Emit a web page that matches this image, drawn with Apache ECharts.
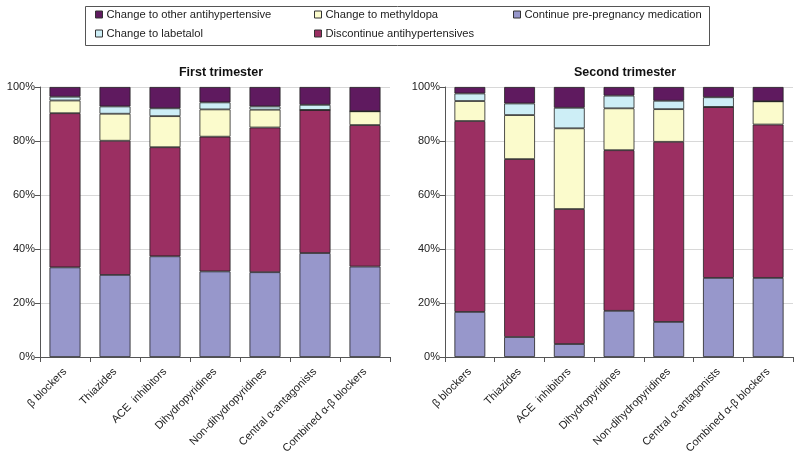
<!DOCTYPE html>
<html><head><meta charset="utf-8">
<script src="https://cdn.jsdelivr.net/npm/echarts@6/dist/echarts.min.js"></script>
<style>html,body{margin:0;padding:0;background:#fff}#c{width:800px;height:461px}</style>
</head><body><div id="c"></div>
<script>
const categories = ['β blockers','Thiazides','ACE  inhibitors','Dihydropyridines','Non-dihydropyridines','Central α-antagonists','Combined α-β blockers'];
const seriesNames = ['Continue pre-pregnancy medication','Discontinue antihypertensives','Change to methyldopa','Change to labetalol','Change to other antihypertensive'];
// First trimester (%)
const t1Continue = [33.2, 30.4, 37.3, 31.7, 31.4, 38.5, 33.5];
const t1Discontinue = [57.1, 49.7, 40.4, 49.9, 53.6, 53.0, 52.4];
const t1Methyldopa = [4.7, 10.0, 11.5, 10.1, 6.6, 0, 5.1];
const t1Labetalol = [1.4, 2.7, 2.9, 2.6, 1.2, 1.9, 0];
const t1Other = [3.6, 7.2, 7.9, 5.7, 7.2, 6.6, 9.0];
// Second trimester (%)
const t2Continue = [16.7, 7.4, 4.8, 17.1, 13.0, 29.3, 29.3];
const t2Discontinue = [70.7, 65.9, 50.0, 59.5, 66.7, 63.3, 56.8];
const t2Methyldopa = [7.4, 16.3, 29.9, 15.5, 12.1, 0, 8.6];
const t2Labetalol = [2.8, 4.3, 7.6, 4.7, 3.1, 3.6, 0];
const t2Other = [2.4, 6.1, 7.7, 3.2, 5.1, 3.8, 5.3];
const yTicks = [0, 20, 40, 60, 80, 100];

const colors = ['#9797cb', '#9b2f62', '#fbfbcc', '#cdeef6', '#5f1a5f'];
const font = 'Liberation Sans, Arial, sans-serif';
const chart = echarts.init(document.getElementById('c'));
const t1 = [t1Continue, t1Discontinue, t1Methyldopa, t1Labetalol, t1Other];
const t2 = [t2Continue, t2Discontinue, t2Methyldopa, t2Labetalol, t2Other];
const series = [];
[t1, t2].forEach((set, gi) => {
  set.forEach((vals, si) => {
    series.push({
      name: seriesNames[si], type: 'bar', stack: 'g' + gi,
      xAxisIndex: gi, yAxisIndex: gi, barWidth: '62%',
      data: vals,
      itemStyle: { color: colors[si], borderColor: '#222', borderWidth: 0.8 },
      emphasis: { disabled: true }
    });
  });
});
const grids = [
  { left: 40, right: 410, top: 87, bottom: 104 },
  { left: 445, right: 7, top: 87, bottom: 104 }
];
const xAxes = [0, 1].map(i => ({
  type: 'category', gridIndex: i, data: categories,
  axisLine: { lineStyle: { color: '#555' } },
  axisTick: { show: true, alignWithLabel: false, lineStyle: { color: '#555' } },
  axisLabel: { rotate: 45, color: '#222', fontFamily: font, fontSize: 11, interval: 0, margin: 13 }
}));
const yAxes = [0, 1].map(i => ({
  type: 'value', gridIndex: i, min: yTicks[0], max: yTicks[yTicks.length - 1], interval: yTicks[1] - yTicks[0],
  axisLine: { show: true, lineStyle: { color: '#555' } },
  axisTick: { show: true, lineStyle: { color: '#555' } },
  axisLabel: { formatter: v => v + '%', color: '#222', fontFamily: font, fontSize: 11, margin: 5 },
  splitLine: { lineStyle: { color: '#d8d8d8' } }
}));
const legendCommon = {
  orient: 'vertical', itemWidth: 7, itemHeight: 7, icon: 'rect',
  textStyle: { fontFamily: font, fontSize: 11.2, color: '#222', padding: [0, 0, 0, -1] },
  itemStyle: { borderColor: '#333', borderWidth: 1 }, selectedMode: false, padding: 0
};
const legendPos = [
  ['Change to other antihypertensive', 95, 9],
  ['Change to labetalol', 95, 28],
  ['Change to methyldopa', 314, 9],
  ['Discontinue antihypertensives', 314, 28],
  ['Continue pre-pregnancy medication', 513, 9]
];
chart.setOption({
  animation: false,
  color: colors,
  title: [
    { text: 'First trimester', left: 216, top: 61, textAlign: 'center', textStyle: { fontFamily: font, fontSize: 12.5, fontWeight: 'bold', color: '#111' } },
    { text: 'Second trimester', left: 620, top: 61, textAlign: 'center', textStyle: { fontFamily: font, fontSize: 12.5, fontWeight: 'bold', color: '#111' } }
  ],
  graphic: [{ type: 'rect', shape: { x: 85.5, y: 6.5, width: 624, height: 39 }, style: { fill: 'none', stroke: '#555', lineWidth: 1 } }],
  legend: legendPos.map(p => Object.assign({}, legendCommon, { left: p[1], top: p[2], data: [p[0]] })),
  grid: grids, xAxis: xAxes, yAxis: yAxes, series: series
});
</script></body></html>
